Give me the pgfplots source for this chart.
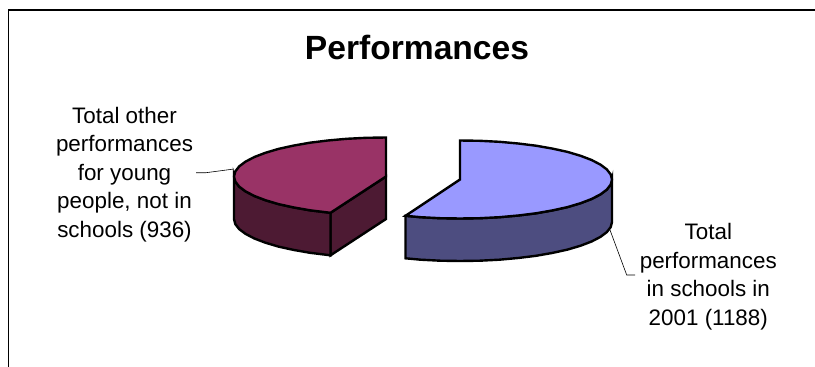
\documentclass[border=0pt]{standalone}
\usepackage{pgfplots}
\pgfplotsset{compat=1.18}
\usepackage{fontspec}
\setmainfont{Liberation Sans}
\definecolor{plumtop}{HTML}{993366}
\definecolor{plumside}{HTML}{4D1A33}
\definecolor{periwinkletop}{HTML}{9999FF}
\definecolor{periwinkleside}{HTML}{4D4D80}
\begin{document}
\begin{tikzpicture}
\begin{axis}[
  width=815pt, height=367pt, scale only axis,
  xmin=0, xmax=815, ymin=0, ymax=367, y dir=reverse,
  hide axis, clip=true,
  every axis plot/.append style={no markers, line join=miter},
]
% page background
\addplot[draw=none, fill=white] coordinates {(0,0) (815,0) (815,367) (0,367)} -- cycle;
% chart frame
\addplot[black, line width=1.3pt] coordinates {(815,10) (8.5,10) (8.5,367)};

% slice 936 of 2124: 158.6 degrees, anti-clockwise from twelve o'clock
% cut face
\addplot[draw=black, fill=plumside, line width=2.4pt] coordinates {
  (386,176.5) (330.5,212.8) (330.5,255.3) (386,219)} -- cycle;
% curved side
\addplot[draw=black, fill=plumside, line width=2.4pt] coordinates {
  (234,176.5) (235.3,181.6) (239.2,186.6) (245.6,191.4) (254.4,196) (265.4,200.2)
  (278.5,204.1) (293.5,207.4) (310,210.3) (330.5,212.8)
  (330.5,255.3) (310,252.8) (293.5,249.9) (278.5,246.6) (265.4,242.7) (254.4,238.5)
  (245.6,233.9) (239.2,229.1) (235.3,224.1) (234,219)} -- cycle;
% top face
\addplot[draw=black, fill=plumtop, line width=2.4pt] coordinates {
  (386,176.5) (386,137.5) (366.2,137.8) (346.7,138.8) (327.8,140.5) (310,142.7)
  (293.5,145.6) (278.5,148.9) (265.4,152.8) (254.4,157) (245.6,161.6) (239.2,166.4)
  (235.3,171.4) (234,176.5) (235.3,181.6) (239.2,186.6) (245.6,191.4) (254.4,196)
  (265.4,200.2) (278.5,204.1) (293.5,207.4) (310,210.3) (330.5,212.8)} -- cycle;

% slice 1188 of 2124: 201.4 degrees, clockwise from twelve o'clock
% curved side
\addplot[draw=black, fill=periwinkleside, line width=2.4pt] coordinates {
  (612,179.5) (610.7,184.6) (606.8,189.6) (600.4,194.4) (591.6,199) (580.6,203.2)
  (567.5,207.1) (552.5,210.4) (536,213.3) (518.2,215.5) (499.3,217.2) (479.8,218.2)
  (460,218.5) (440.2,218.2) (420.7,217.2) (405.5,215.8)
  (405.5,258.3) (420.7,259.7) (440.2,260.7) (460,261) (479.8,260.7) (499.3,259.7)
  (518.2,258) (536,255.8) (552.5,252.9) (567.5,249.6) (580.6,245.7) (591.6,241.5)
  (600.4,236.9) (606.8,232.1) (610.7,227.1) (612,222)} -- cycle;
% top face
\addplot[draw=black, fill=periwinkletop, line width=2.4pt] coordinates {
  (460,179.5) (460,140.5) (479.8,140.8) (499.3,141.8) (518.2,143.5) (536,145.7)
  (552.5,148.6) (567.5,151.9) (580.6,155.8) (591.6,160) (600.4,164.6) (606.8,169.4)
  (610.7,174.4) (612,179.5) (610.7,184.6) (606.8,189.6) (600.4,194.4) (591.6,199)
  (580.6,203.2) (567.5,207.1) (552.5,210.4) (536,213.3) (518.2,215.5) (499.3,217.2)
  (479.8,218.2) (460,218.5) (440.2,218.2) (420.7,217.2) (405.5,215.8)} -- cycle;

% leader lines
\addplot[black, line width=0.6pt] coordinates {(196,172.7) (206,172.7) (234,169)};
\addplot[black, line width=0.6pt] coordinates {(610,230) (626.7,275) (635,275)};

% title and labels
\node[anchor=base, font=\fontsize{33.6pt}{38pt}\selectfont\bfseries] at (axis cs:417,59) {Performances};
\node[anchor=center, align=center, font=\fontsize{22.4pt}{28.6pt}\selectfont] at (axis cs:124.5,174.5)
  {Total other\\performances\\for young\\people, not in\\schools (936)};
\node[anchor=center, align=center, font=\fontsize{22.4pt}{28.6pt}\selectfont] at (axis cs:708.3,276.6)
  {Total\\performances\\in schools in\\2001 (1188)};
\end{axis}
\end{tikzpicture}
\end{document}
